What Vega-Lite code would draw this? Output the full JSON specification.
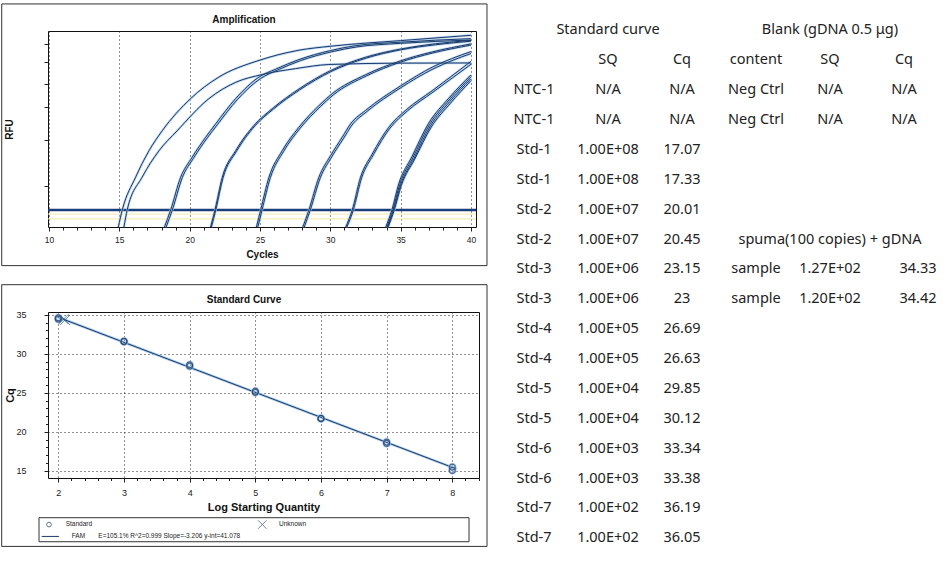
{
  "$schema": "https://vega.github.io/schema/vega-lite/v6.json",
  "background": "white",
  "padding": {"left": 0, "top": 2, "right": 0, "bottom": 0},
  "config": {
    "font": "Liberation Sans",
    "view": {"stroke": null},
    "axis": {"labelFont": "Liberation Sans", "titleFont": "Liberation Sans", "labelColor": "#222", "titleColor": "#111", "tickColor": "#222", "domainColor": "#222"},
    "title": {"font": "Liberation Sans", "color": "#111"}
  },
  "datasets": {
    "amp": [
      {"w":"A1","cycle":14.93,"rfu":0},{"w":"A1","cycle":15.21,"rfu":8.7},{"w":"A1","cycle":16.16,"rfu":25.4},{"w":"A1","cycle":17.11,"rfu":38.9},{"w":"A1","cycle":18.05,"rfu":49.1},{"w":"A1","cycle":20.07,"rfu":65.5},{"w":"A1","cycle":22.08,"rfu":76.5},{"w":"A1","cycle":24.93,"rfu":85.0},{"w":"A1","cycle":27.77,"rfu":90.2},{"w":"A1","cycle":29.99,"rfu":92.2},{"w":"A1","cycle":35.0,"rfu":95.1},{"w":"A1","cycle":40.0,"rfu":97.8},
      {"w":"A2","cycle":15.33,"rfu":0},{"w":"A2","cycle":15.56,"rfu":8.7},{"w":"A2","cycle":16.63,"rfu":25.5},{"w":"A2","cycle":17.82,"rfu":38.9},{"w":"A2","cycle":19.1,"rfu":49},{"w":"A2","cycle":21.37,"rfu":65.5},{"w":"A2","cycle":23.27,"rfu":73.8},{"w":"A2","cycle":25.16,"rfu":77.8},{"w":"A2","cycle":27.53,"rfu":80.8},{"w":"A2","cycle":29.9,"rfu":82.9},{"w":"A2","cycle":34.88,"rfu":83.6},{"w":"A2","cycle":40.0,"rfu":83.7},
      {"w":"B1","cycle":18.21,"rfu":0},{"w":"B1","cycle":18.65,"rfu":8.7},{"w":"B1","cycle":19.36,"rfu":25.4},{"w":"B1","cycle":20.18,"rfu":35.6},{"w":"B1","cycle":21.14,"rfu":45.8},{"w":"B1","cycle":21.85,"rfu":52.6},{"w":"B1","cycle":23.27,"rfu":65.5},{"w":"B1","cycle":24.93,"rfu":76.5},{"w":"B1","cycle":26.11,"rfu":80.5},{"w":"B1","cycle":27.77,"rfu":85.4},{"w":"B1","cycle":30.0,"rfu":90.0},{"w":"B1","cycle":31.8,"rfu":92.5},{"w":"B1","cycle":35.0,"rfu":94.3},{"w":"B1","cycle":40.0,"rfu":96.1},
      {"w":"B2","cycle":18.33,"rfu":0},{"w":"B2","cycle":18.77,"rfu":8.7},{"w":"B2","cycle":19.48,"rfu":25.2},{"w":"B2","cycle":20.3,"rfu":35.4},{"w":"B2","cycle":21.26,"rfu":45.5},{"w":"B2","cycle":21.97,"rfu":52.2},{"w":"B2","cycle":23.39,"rfu":65.0},{"w":"B2","cycle":25.05,"rfu":75.8},{"w":"B2","cycle":26.23,"rfu":80.0},{"w":"B2","cycle":27.89,"rfu":84.9},{"w":"B2","cycle":30.1,"rfu":89.4},{"w":"B2","cycle":31.9,"rfu":91.9},{"w":"B2","cycle":35.0,"rfu":93.7},{"w":"B2","cycle":40.0,"rfu":95.4},
      {"w":"C1","cycle":21.49,"rfu":0},{"w":"C1","cycle":21.8,"rfu":8.7},{"w":"C1","cycle":22.32,"rfu":25.4},{"w":"C1","cycle":23.27,"rfu":38.9},{"w":"C1","cycle":24.57,"rfu":51.8},{"w":"C1","cycle":25.9,"rfu":60.5},{"w":"C1","cycle":27.77,"rfu":70.4},{"w":"C1","cycle":29.99,"rfu":79.7},{"w":"C1","cycle":32.51,"rfu":86.6},{"w":"C1","cycle":35.0,"rfu":90.8},{"w":"C1","cycle":37.5,"rfu":93.5},{"w":"C1","cycle":40.0,"rfu":95.2},
      {"w":"C2","cycle":21.55,"rfu":0},{"w":"C2","cycle":21.86,"rfu":8.7},{"w":"C2","cycle":22.38,"rfu":25.2},{"w":"C2","cycle":23.33,"rfu":38.6},{"w":"C2","cycle":24.63,"rfu":51.5},{"w":"C2","cycle":25.96,"rfu":60.2},{"w":"C2","cycle":27.83,"rfu":70.0},{"w":"C2","cycle":30.05,"rfu":79.3},{"w":"C2","cycle":32.57,"rfu":86.2},{"w":"C2","cycle":35.0,"rfu":90.4},{"w":"C2","cycle":37.5,"rfu":93.0},{"w":"C2","cycle":40.0,"rfu":94.8},
      {"w":"D1","cycle":24.75,"rfu":0},{"w":"D1","cycle":25.05,"rfu":8.7},{"w":"D1","cycle":25.64,"rfu":25.4},{"w":"D1","cycle":26.58,"rfu":38.9},{"w":"D1","cycle":27.77,"rfu":50.9},{"w":"D1","cycle":29.19,"rfu":61.9},{"w":"D1","cycle":30.13,"rfu":68.0},{"w":"D1","cycle":32.51,"rfu":77.7},{"w":"D1","cycle":34.88,"rfu":84.5},{"w":"D1","cycle":37.24,"rfu":89.3},{"w":"D1","cycle":40.0,"rfu":93.4},
      {"w":"D2","cycle":24.85,"rfu":0},{"w":"D2","cycle":25.15,"rfu":8.7},{"w":"D2","cycle":25.74,"rfu":25.2},{"w":"D2","cycle":26.68,"rfu":38.6},{"w":"D2","cycle":27.87,"rfu":50.5},{"w":"D2","cycle":29.29,"rfu":61.4},{"w":"D2","cycle":30.23,"rfu":67.5},{"w":"D2","cycle":32.6,"rfu":77.2},{"w":"D2","cycle":34.95,"rfu":84.0},{"w":"D2","cycle":37.3,"rfu":88.8},{"w":"D2","cycle":40.0,"rfu":92.8},
      {"w":"E1","cycle":28.05,"rfu":0},{"w":"E1","cycle":28.48,"rfu":8.7},{"w":"E1","cycle":29.19,"rfu":25.4},{"w":"E1","cycle":30.02,"rfu":36.4},{"w":"E1","cycle":30.85,"rfu":45.8},{"w":"E1","cycle":31.44,"rfu":52.6},{"w":"E1","cycle":32.51,"rfu":59.5},{"w":"E1","cycle":35.0,"rfu":72.0},{"w":"E1","cycle":37.24,"rfu":81.5},{"w":"E1","cycle":40.0,"rfu":89.5},
      {"w":"E2","cycle":28.15,"rfu":0},{"w":"E2","cycle":28.58,"rfu":8.7},{"w":"E2","cycle":29.29,"rfu":25.1},{"w":"E2","cycle":30.12,"rfu":36.0},{"w":"E2","cycle":30.95,"rfu":45.3},{"w":"E2","cycle":31.54,"rfu":52.0},{"w":"E2","cycle":32.6,"rfu":58.9},{"w":"E2","cycle":35.0,"rfu":71.0},{"w":"E2","cycle":37.3,"rfu":80.6},{"w":"E2","cycle":40.0,"rfu":88.5},
      {"w":"F1","cycle":31.1,"rfu":0},{"w":"F1","cycle":31.56,"rfu":8.7},{"w":"F1","cycle":32.15,"rfu":25.4},{"w":"F1","cycle":32.98,"rfu":37.2},{"w":"F1","cycle":34.16,"rfu":50.9},{"w":"F1","cycle":35.4,"rfu":59.8},{"w":"F1","cycle":37.24,"rfu":69.5},{"w":"F1","cycle":40.0,"rfu":84.5},
      {"w":"F2","cycle":31.18,"rfu":0},{"w":"F2","cycle":31.64,"rfu":8.7},{"w":"F2","cycle":32.23,"rfu":25.1},{"w":"F2","cycle":33.06,"rfu":36.8},{"w":"F2","cycle":34.24,"rfu":50.4},{"w":"F2","cycle":35.48,"rfu":59.2},{"w":"F2","cycle":37.3,"rfu":68.8},{"w":"F2","cycle":40.0,"rfu":83.0},
      {"w":"G1","cycle":33.95,"rfu":0},{"w":"G1","cycle":34.38,"rfu":8.7},{"w":"G1","cycle":34.86,"rfu":21.9},{"w":"G1","cycle":35.8,"rfu":35.8},{"w":"G1","cycle":36.98,"rfu":52.8},{"w":"G1","cycle":38.4,"rfu":65.5},{"w":"G1","cycle":40.0,"rfu":77.6},
      {"w":"G2","cycle":34.02,"rfu":0},{"w":"G2","cycle":34.45,"rfu":8.7},{"w":"G2","cycle":34.93,"rfu":21.6},{"w":"G2","cycle":35.87,"rfu":35.3},{"w":"G2","cycle":37.05,"rfu":52.2},{"w":"G2","cycle":38.45,"rfu":64.8},{"w":"G2","cycle":40.0,"rfu":76.6},
      {"w":"G3","cycle":34.08,"rfu":0},{"w":"G3","cycle":34.5,"rfu":8.7},{"w":"G3","cycle":35.0,"rfu":21.4},{"w":"G3","cycle":35.95,"rfu":35.0},{"w":"G3","cycle":37.12,"rfu":51.6},{"w":"G3","cycle":38.5,"rfu":64.0},{"w":"G3","cycle":40.0,"rfu":75.6},
      {"w":"G4","cycle":34.12,"rfu":0},{"w":"G4","cycle":34.55,"rfu":8.7},{"w":"G4","cycle":35.05,"rfu":21.2},{"w":"G4","cycle":36.0,"rfu":34.6},{"w":"G4","cycle":37.18,"rfu":51.0},{"w":"G4","cycle":38.55,"rfu":63.2},{"w":"G4","cycle":40.0,"rfu":74.6}
    ],
    "standards": [
      {"log":2,"cq":34.44},{"log":2,"cq":34.6},{"log":3,"cq":31.55},{"log":3,"cq":31.6},{"log":4,"cq":28.4},{"log":4,"cq":28.58},{"log":5,"cq":25.05},{"log":5,"cq":25.2},{"log":6,"cq":21.67},{"log":6,"cq":21.72},{"log":7,"cq":18.5},{"log":7,"cq":18.68},{"log":8,"cq":15.47},{"log":8,"cq":15.04}
    ],
    "unknowns": [{"log":2.104,"cq":34.33},{"log":2.079,"cq":34.42}],
    "fit": [{"log":1.98,"cq":34.73},{"log":8.06,"cq":15.24}],
    "table": [
      {"row":0,"B":"Standard curve","E":"Blank (gDNA 0.5 μg)"},
      {"row":1,"B":"SQ","C":"Cq","D":"content","E":"SQ","F":"Cq"},
      {"row":2,"A":"NTC-1","B":"N/A","C":"N/A","D":"Neg Ctrl","E":"N/A","F":"N/A"},
      {"row":3,"A":"NTC-1","B":"N/A","C":"N/A","D":"Neg Ctrl","E":"N/A","F":"N/A"},
      {"row":4,"A":"Std-1","B":"1.00E+08","C":"17.07"},
      {"row":5,"A":"Std-1","B":"1.00E+08","C":"17.33"},
      {"row":6,"A":"Std-2","B":"1.00E+07","C":"20.01"},
      {"row":7,"A":"Std-2","B":"1.00E+07","C":"20.45","E":"spuma(100 copies) + gDNA"},
      {"row":8,"A":"Std-3","B":"1.00E+06","C":"23.15","D":"sample","E":"1.27E+02","G":"34.33"},
      {"row":9,"A":"Std-3","B":"1.00E+06","C":"23","D":"sample","E":"1.20E+02","G":"34.42"},
      {"row":10,"A":"Std-4","B":"1.00E+05","C":"26.69"},
      {"row":11,"A":"Std-4","B":"1.00E+05","C":"26.63"},
      {"row":12,"A":"Std-5","B":"1.00E+04","C":"29.85"},
      {"row":13,"A":"Std-5","B":"1.00E+04","C":"30.12"},
      {"row":14,"A":"Std-6","B":"1.00E+03","C":"33.34"},
      {"row":15,"A":"Std-6","B":"1.00E+03","C":"33.38"},
      {"row":16,"A":"Std-7","B":"1.00E+02","C":"36.19"},
      {"row":17,"A":"Std-7","B":"1.00E+02","C":"36.05"}
    ]
  },
  "concat": [
    {
      "concat": [
        {
          "width": 428, "height": 196,
          "view": {"stroke": "#111", "strokeWidth": 1},
          "title": {"text": "Amplification", "fontSize": 10, "fontWeight": "bold", "anchor": "middle", "frame": "group", "dx": -18, "offset": -21.5},
          "layer": [
            {
              "data": {"values": [{}]},
              "mark": {"type": "rect", "fill": null, "stroke": "#333", "strokeWidth": 1},
              "encoding": {
                "x": {"datum": 6.64, "type": "quantitative", "scale": {"domain": [9.93, 40.36], "nice": false, "zero": false}},
                "x2": {"datum": 41.14},
                "y": {"datum": 113.8, "type": "quantitative", "scale": {"domain": [0, 100], "nice": false, "zero": false}},
                "y2": {"datum": -19.7}
              }
            },
            {
              "data": {"values": [{"rfu": 6.6}, {"rfu": 4.1}]},
              "mark": {"type": "rule", "stroke": "#eee8a6", "strokeWidth": 1},
              "encoding": {"y": {"field": "rfu", "type": "quantitative", "title": "RFU", "scale": {"domain": [0, 100], "nice": false, "zero": false}}}
            },
            {
              "data": {"values": [{"rfu": 8.7}]},
              "mark": {"type": "rule", "stroke": "#1b3d78", "strokeWidth": 2.6},
              "encoding": {"y": {"field": "rfu", "type": "quantitative", "title": "RFU", "scale": {"domain": [0, 100], "nice": false, "zero": false}}}
            },
            {
              "data": {"name": "amp"},
              "mark": {"type": "line", "interpolate": "monotone", "stroke": "#a7c9ea", "strokeWidth": 2.4, "opacity": 0.8},
              "encoding": {
                "x": {"field": "cycle", "type": "quantitative", "title": "Cycles", "scale": {"domain": [9.93, 40.36], "nice": false, "zero": false},
                  "axis": {"title": "Cycles", "titleFontSize": 10, "titleFontWeight": "bold", "titlePadding": 6,
                    "values": [10,11,12,13,14,15,16,17,18,19,20,21,22,23,24,25,26,27,28,29,30,31,32,33,34,35,36,37,38,39,40],
                    "tickCount": 200, "format": "d",
                    "labelExpr": "datum.value % 5 === 0 ? datum.label : ''",
                    "labelFontSize": 8.5, "labelPadding": 4, "labelOverlap": false, "labelFlush": false,
                    "tickSize": {"condition": {"test": "datum.value % 5 === 0", "value": 4}, "value": 3},
                    "domain": false, "grid": true, "gridDash": [1, 3], "gridColor": "#222",
                    "gridOpacity": {"condition": {"test": "datum.value % 5 === 0", "value": 1}, "value": 0}}},
                "y": {"field": "rfu", "type": "quantitative", "title": "RFU", "scale": {"domain": [0, 100], "nice": false, "zero": false},
                  "axis": {"title": "RFU", "titleFontSize": 10, "titleFontWeight": "bold", "values": [20.9, 44.4, 61.2, 73.0, 84.2, 93.4], "tickCount": 200,
                    "labels": false, "tickSize": 4, "domain": false, "grid": false, "minExtent": 30, "maxExtent": 30, "titlePadding": 4}},
                "detail": {"field": "w"}
              }
            },
            {
              "data": {"name": "amp"},
              "mark": {"type": "line", "interpolate": "monotone", "stroke": "#1b3a6b", "strokeWidth": 1},
              "encoding": {
                "x": {"field": "cycle", "type": "quantitative", "title": "Cycles", "scale": {"domain": [9.93, 40.36], "nice": false, "zero": false}},
                "y": {"field": "rfu", "type": "quantitative", "title": "RFU", "scale": {"domain": [0, 100], "nice": false, "zero": false}},
                "detail": {"field": "w"}
              }
            }
          ]
        },
        {
          "width": 431, "height": 166,
          "view": {"stroke": "#111", "strokeWidth": 1},
          "title": {"text": "Standard Curve", "fontSize": 10, "fontWeight": "bold", "anchor": "middle", "frame": "group", "dx": -19.5, "offset": -21},
          "layer": [
            {
              "data": {"values": [{}]},
              "mark": {"type": "rect", "fill": null, "stroke": "#333", "strokeWidth": 1},
              "encoding": {
                "x": {"datum": 1.138, "type": "quantitative", "scale": {"domain": [1.843, 8.406], "nice": false, "zero": false}},
                "x2": {"datum": 8.528},
                "y": {"datum": 38.85, "type": "quantitative", "scale": {"domain": [14.07, 35.35], "nice": false, "zero": false}},
                "y2": {"datum": 5.30}
              }
            },
            {
              "data": {"values": [{}]},
              "mark": {"type": "rect", "fill": null, "stroke": "#333", "strokeWidth": 1},
              "encoding": {
                "x": {"datum": 1.706, "type": "quantitative", "scale": {"domain": [1.843, 8.406], "nice": false, "zero": false}},
                "x2": {"datum": 8.254},
                "y": {"datum": 8.98, "type": "quantitative", "scale": {"domain": [14.07, 35.35], "nice": false, "zero": false}},
                "y2": {"datum": 5.90}
              }
            },
            {
              "data": {"values": [{}]},
              "mark": {"type": "point", "shape": "circle", "size": 22, "filled": false, "stroke": "#1b3a6b", "strokeWidth": 1},
              "encoding": {
                "x": {"datum": 1.858, "type": "quantitative", "scale": {"domain": [1.843, 8.406], "nice": false, "zero": false}},
                "y": {"datum": 8.1, "type": "quantitative", "scale": {"domain": [14.07, 35.35], "nice": false, "zero": false}}
              }
            },
            {
              "data": {"values": [{}]},
              "mark": {"type": "point", "shape": "M-1,-1L1,1M-1,1L1,-1", "size": 70, "filled": false, "stroke": "#1b3a6b", "strokeWidth": 0.9},
              "encoding": {
                "x": {"datum": 5.106, "type": "quantitative", "scale": {"domain": [1.843, 8.406], "nice": false, "zero": false}},
                "y": {"datum": 8.1, "type": "quantitative", "scale": {"domain": [14.07, 35.35], "nice": false, "zero": false}}
              }
            },
            {
              "data": {"values": [{}]},
              "mark": {"type": "rule", "stroke": "#1b3a6b", "strokeWidth": 1},
              "encoding": {
                "x": {"datum": 1.747, "type": "quantitative", "scale": {"domain": [1.843, 8.406], "nice": false, "zero": false}},
                "x2": {"datum": 2.01},
                "y": {"datum": 6.58, "type": "quantitative", "scale": {"domain": [14.07, 35.35], "nice": false, "zero": false}}
              }
            },
            {
              "data": {"values": [{}]},
              "mark": {"type": "text", "text": "Standard", "align": "left", "baseline": "middle", "fontSize": 6.5, "color": "#222"},
              "encoding": {
                "x": {"datum": 2.112, "type": "quantitative", "scale": {"domain": [1.843, 8.406], "nice": false, "zero": false}},
                "y": {"datum": 8.2, "type": "quantitative", "scale": {"domain": [14.07, 35.35], "nice": false, "zero": false}}
              }
            },
            {
              "data": {"values": [{}]},
              "mark": {"type": "text", "text": "Unknown", "align": "left", "baseline": "middle", "fontSize": 6.5, "color": "#222"},
              "encoding": {
                "x": {"datum": 5.361, "type": "quantitative", "scale": {"domain": [1.843, 8.406], "nice": false, "zero": false}},
                "y": {"datum": 8.2, "type": "quantitative", "scale": {"domain": [14.07, 35.35], "nice": false, "zero": false}}
              }
            },
            {
              "data": {"values": [{}]},
              "mark": {"type": "text", "text": "FAM", "align": "left", "baseline": "middle", "fontSize": 6.5, "color": "#222"},
              "encoding": {
                "x": {"datum": 2.204, "type": "quantitative", "scale": {"domain": [1.843, 8.406], "nice": false, "zero": false}},
                "y": {"datum": 6.58, "type": "quantitative", "scale": {"domain": [14.07, 35.35], "nice": false, "zero": false}}
              }
            },
            {
              "data": {"values": [{}]},
              "mark": {"type": "text", "text": "E=105.1% R^2=0.999 Slope=-3.206 y-int=41.078", "align": "left", "baseline": "middle", "fontSize": 6.5, "color": "#222"},
              "encoding": {
                "x": {"datum": 2.609, "type": "quantitative", "scale": {"domain": [1.843, 8.406], "nice": false, "zero": false}},
                "y": {"datum": 6.58, "type": "quantitative", "scale": {"domain": [14.07, 35.35], "nice": false, "zero": false}}
              }
            },
            {
              "data": {"name": "fit"},
              "mark": {"type": "line", "stroke": "#a7c9ea", "strokeWidth": 2.6},
              "encoding": {
                "x": {"field": "log", "type": "quantitative", "title": "Log Starting Quantity", "scale": {"domain": [1.843, 8.406], "nice": false, "zero": false},
                  "axis": {"title": "Log Starting Quantity", "titleFontSize": 11, "titleFontWeight": "bold", "titlePadding": 4,
                    "values": [2,2.2,2.4,2.6,2.8,3,3.2,3.4,3.6,3.8,4,4.2,4.4,4.6,4.8,5,5.2,5.4,5.6,5.8,6,6.2,6.4,6.6,6.8,7,7.2,7.4,7.6,7.8,8,8.2,8.4],
                    "tickCount": 200,
                    "labelExpr": "abs(datum.value - round(datum.value)) < 0.01 ? format(datum.value, 'd') : ''",
                    "labelFontSize": 9, "labelPadding": 6, "labelOverlap": false, "labelFlush": false,
                    "tickSize": {"condition": {"test": "abs(datum.value - round(datum.value)) < 0.01", "value": 4}, "value": 2.5},
                    "domain": false, "grid": true, "gridDash": [1, 3], "gridColor": "#222",
                    "gridOpacity": {"condition": {"test": "abs(datum.value - round(datum.value)) < 0.01", "value": 1}, "value": 0}}},
                "y": {"field": "cq", "type": "quantitative", "title": "Cq", "scale": {"domain": [14.07, 35.35], "nice": false, "zero": false},
                  "axis": {"title": "Cq", "titleFontSize": 11, "titleFontWeight": "bold", "titlePadding": 0,
                    "values": [15,16,17,18,19,20,21,22,23,24,25,26,27,28,29,30,31,32,33,34,35],
                    "tickCount": 200, "format": "d",
                    "labelExpr": "datum.value % 5 === 0 ? datum.label : ''",
                    "labelFontSize": 9, "labelPadding": 18, "labelOverlap": false, "labelFlush": false, "minExtent": 0, "maxExtent": 200,
                    "tickSize": {"condition": {"test": "datum.value % 5 === 0", "value": 4}, "value": 2.5},
                    "domain": false, "grid": true, "gridDash": [1, 3], "gridColor": "#222",
                    "gridOpacity": {"condition": {"test": "datum.value % 5 === 0", "value": 1}, "value": 0}}}
              }
            },
            {
              "data": {"name": "fit"},
              "mark": {"type": "line", "stroke": "#1b3a6b", "strokeWidth": 1},
              "encoding": {
                "x": {"field": "log", "type": "quantitative", "title": "Log Starting Quantity", "scale": {"domain": [1.843, 8.406], "nice": false, "zero": false}},
                "y": {"field": "cq", "type": "quantitative", "title": "Cq", "scale": {"domain": [14.07, 35.35], "nice": false, "zero": false}}
              }
            },
            {
              "data": {"name": "standards"},
              "mark": {"type": "point", "shape": "circle", "size": 36, "filled": false, "stroke": "#a7c9ea", "strokeWidth": 2.6},
              "encoding": {
                "x": {"field": "log", "type": "quantitative", "title": "Log Starting Quantity", "scale": {"domain": [1.843, 8.406], "nice": false, "zero": false}},
                "y": {"field": "cq", "type": "quantitative", "title": "Cq", "scale": {"domain": [14.07, 35.35], "nice": false, "zero": false}}
              }
            },
            {
              "data": {"name": "standards"},
              "mark": {"type": "point", "shape": "circle", "size": 36, "filled": false, "stroke": "#1b3a6b", "strokeWidth": 1.2},
              "encoding": {
                "x": {"field": "log", "type": "quantitative", "title": "Log Starting Quantity", "scale": {"domain": [1.843, 8.406], "nice": false, "zero": false}},
                "y": {"field": "cq", "type": "quantitative", "title": "Cq", "scale": {"domain": [14.07, 35.35], "nice": false, "zero": false}}
              }
            },
            {
              "data": {"name": "unknowns"},
              "mark": {"type": "point", "shape": "M-1,-1L1,1M-1,1L1,-1", "size": 100, "filled": false, "stroke": "#2a5a94", "strokeWidth": 1},
              "encoding": {
                "x": {"field": "log", "type": "quantitative", "title": "Log Starting Quantity", "scale": {"domain": [1.843, 8.406], "nice": false, "zero": false}},
                "y": {"field": "cq", "type": "quantitative", "title": "Cq", "scale": {"domain": [14.07, 35.35], "nice": false, "zero": false}}
              }
            }
          ]
        }
      ],
      "columns": 1,
      "align": "each",
      "spacing": 16
    },
    {
      "width": 436, "height": 520,
      "data": {"name": "table"},
      "transform": [
        {"fold": ["A", "B", "C", "D", "E", "F", "G"], "as": ["col", "txt"]},
        {"filter": "isValid(datum.txt) && datum.txt !== ''"}
      ],
      "layer": [
        {
          "transform": [{"filter": "datum.col !== 'G'"}],
          "mark": {"type": "text", "font": "Noto Sans", "fontSize": 14.5, "color": "#222", "baseline": "middle"},
          "encoding": {
            "x": {"field": "col", "type": "ordinal", "scale": {"type": "point", "domain": ["A", "B", "C", "D", "E", "F"], "padding": 0.446}, "axis": null},
            "y": {"field": "row", "type": "quantitative", "scale": {"domain": [0.023, 17.423], "reverse": true, "nice": false, "zero": false}, "axis": null},
            "text": {"field": "txt"}
          }
        },
        {
          "transform": [{"filter": "datum.col === 'G'"}],
          "mark": {"type": "text", "font": "Noto Sans", "fontSize": 14.5, "color": "#222", "baseline": "middle", "dx": 14},
          "encoding": {
            "x": {"datum": "F", "type": "ordinal", "scale": {"type": "point", "domain": ["A", "B", "C", "D", "E", "F"], "padding": 0.446}, "axis": null},
            "y": {"field": "row", "type": "quantitative", "scale": {"domain": [0.023, 17.423], "reverse": true, "nice": false, "zero": false}, "axis": null},
            "text": {"field": "txt"}
          }
        }
      ]
    }
  ],
  "columns": 2,
  "align": "none",
  "spacing": 12
}
